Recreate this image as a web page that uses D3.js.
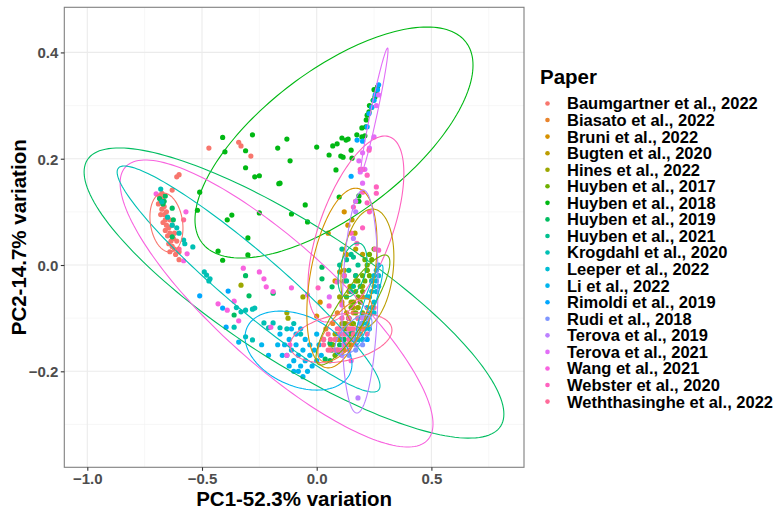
<!DOCTYPE html>
<html>
<head>
<meta charset="utf-8">
<script src="https://cdn.jsdelivr.net/npm/d3@7"></script>
<style>
	body { margin:0; background:#fff; }
	svg { font-family:"Liberation Sans", Arial, sans-serif; }
</style>
</head>
<body>
<svg id="chart" width="779" height="509"></svg>
<script>
// Legend order (also colour order of the ggplot hue palette)
const papers = [
	'Baumgartner et al., 2022','Biasato et al., 2022','Bruni et al., 2022','Bugten et al., 2020',
	'Hines et al., 2022','Huyben et al., 2017','Huyben et al., 2018','Huyben et al., 2019',
	'Huyben et al., 2021','Krogdahl et al., 2020','Leeper et al., 2022','Li et al., 2022',
	'Rimoldi et al., 2019','Rudi et al., 2018','Terova et al., 2019','Terova et al., 2021',
	'Wang et al., 2021','Webster et al., 2020','Weththasinghe et al., 2022'
];

// PC1 / PC2 scores, one array per paper
const baumgartner = [[-0.69,0.115],[-0.68,0.12],[-0.675,0.105],[-0.67,0.125],[-0.665,0.11],[-0.68,0.095],[-0.665,0.095],[-0.66,0.085],[-0.67,0.08],[-0.655,0.075],[-0.66,0.065],[-0.645,0.07],[-0.65,0.055],[-0.64,0.06],[-0.635,0.045],[-0.645,0.04],[-0.63,0.035],[-0.62,0.03],[-0.625,0.05],[-0.615,0.02],[-0.61,0.045],[-0.6,0.025],[-0.655,0.1],[-0.64,0.085],[-0.63,0.075],[-0.675,0.135],[-0.685,0.13],[-0.62,0.06],[-0.6,0.01],[-0.64,0.025],[-0.47,0.22],[-0.34,0.231],[-0.33,0.224],[-0.287,0.205],[-0.61,0.166],[-0.6,0.17],[-0.63,0.141]];
const biasato = [[0.04,-0.12],[0.07,-0.11],[0.1,-0.14],[0.13,-0.11],[0.16,-0.09],[0.09,-0.09],[0.06,-0.15],[0.12,-0.16],[0.15,-0.15],[0.18,-0.08],[0.11,-0.07]];
const bruni = [[0.05,0.06],[0.015,-0.07],[0.0,-0.096],[0.136,0.075],[0.1,-0.013],[0.145,-0.04],[0.13,0.02],[0.08,-0.03],[0.12,-0.12],[0.09,-0.14],[0.15,-0.11],[0.11,-0.16],[0.07,-0.15],[0.17,0.12],[0.12,0.1]];
const bugten = [[0.12,-0.01],[0.14,-0.05],[0.16,-0.08],[0.18,-0.1],[0.15,-0.13],[0.17,-0.03],[0.2,-0.06],[0.13,-0.09],[0.19,-0.12],[0.11,-0.11],[0.167,0.06],[0.154,0.085],[0.2,0.02],[0.22,-0.01],[0.17,0.03]];
const hines = [[-0.33,-0.038],[-0.13,-0.09],[-0.125,-0.1],[-0.06,-0.06],[0.12,-0.03],[0.15,-0.07],[0.17,-0.02],[0.2,-0.04],[0.1,-0.06],[0.18,-0.08],[0.14,-0.15],[0.08,-0.13]];
const huyben2017 = [[0.25,0.03],[0.24,0.01],[0.23,0.02],[0.22,-0.01],[0.23,-0.02],[0.21,-0.03],[0.2,-0.02],[0.2,-0.05],[0.19,-0.04],[0.18,-0.06],[0.19,-0.07],[0.17,-0.05],[0.16,-0.07],[0.17,-0.09],[0.15,-0.08],[0.14,-0.1],[0.16,-0.11],[0.13,-0.12],[0.12,-0.11],[0.14,-0.13],[0.11,-0.14],[0.1,-0.13],[0.12,-0.15],[0.09,-0.16],[0.08,-0.17],[0.22,0.0],[0.24,-0.03],[0.21,0.01],[0.18,-0.03],[0.15,-0.04],[0.13,-0.06],[0.2,-0.09],[0.07,-0.15]];
const huyben2018 = [[-0.41,0.24],[-0.4,0.213],[-0.28,0.245],[-0.31,0.215],[-0.31,0.183],[-0.27,0.166],[-0.25,0.168],[-0.17,0.22],[-0.13,0.237],[-0.116,0.196],[-0.165,0.153],[-0.51,0.137],[0.0,0.222],[0.054,0.207],[0.07,0.224],[0.089,0.228],[0.11,0.239],[0.128,0.235],[0.137,0.237],[0.105,0.205],[0.115,0.203],[0.15,0.216],[0.154,0.201],[0.084,0.179],[0.175,0.245],[0.197,0.258],[0.197,0.241],[0.21,0.243],[0.214,0.26],[0.216,0.273],[0.22,0.282],[0.228,0.288],[0.24,0.297],[0.246,0.31],[0.254,0.316],[0.26,0.323],[0.098,0.128],[0.184,0.13],[-0.52,0.103],[-0.39,0.085],[-0.37,0.094],[-0.25,0.098],[-0.11,0.096],[-0.04,0.081],[-0.3,0.051],[-0.43,0.026],[-0.41,0.009],[-0.3,0.019],[-0.16,0.154],[-0.05,0.113],[0.184,0.12],[0.23,0.3],[0.25,0.33],[0.265,0.335]];
const huyben2019 = [[-0.685,0.125],[-0.675,0.12],[-0.67,0.115],[-0.665,0.12],[-0.63,0.107],[-0.625,0.085],[-0.63,0.053],[-0.66,0.13],[-0.31,-0.02],[-0.295,-0.058],[-0.36,-0.094],[-0.19,-0.053],[0.058,-0.147],[0.066,-0.16],[0.09,-0.165],[0.1,-0.15],[0.12,-0.14],[0.154,-0.126],[0.037,-0.177],[0.058,-0.18],[0.023,-0.004],[0.023,-0.026],[0.067,-0.041],[0.14,-0.1]];
const huyben2021 = [[0.1,0.0],[0.13,0.01],[0.15,0.02],[0.16,0.015],[0.14,-0.01],[0.17,-0.02],[0.13,-0.03],[0.16,-0.04],[0.12,-0.02],[0.18,0.0],[0.15,-0.05],[0.11,0.03]];
const krogdahl = [[-0.68,0.143],[-0.675,0.119],[-0.61,0.07],[-0.6,0.06],[-0.58,0.047],[-0.575,0.04],[-0.54,0.034],[-0.49,-0.013],[-0.48,-0.019],[-0.465,-0.026],[-0.47,-0.03],[-0.35,-0.08],[-0.33,-0.088],[-0.31,-0.085],[-0.28,-0.083],[-0.27,-0.081],[-0.36,-0.117],[-0.31,-0.135],[-0.28,-0.141],[-0.23,-0.109],[-0.21,-0.118],[-0.19,-0.109],[-0.16,-0.118],[-0.13,-0.12],[-0.1,-0.11],[-0.07,-0.13],[-0.65,0.09],[-0.63,0.075]];
const leeper = [[0.27,0.0],[0.26,-0.01],[0.27,-0.02],[0.25,-0.02],[0.26,-0.03],[0.25,-0.04],[0.24,-0.05],[0.26,-0.05],[0.23,-0.06],[0.25,-0.07],[0.24,-0.08],[0.22,-0.08],[0.23,-0.09],[0.21,-0.1],[0.22,-0.11],[0.2,-0.11],[0.21,-0.12],[0.19,-0.13],[0.2,-0.14],[0.18,-0.14],[0.24,-0.03],[0.22,-0.06],[0.25,-0.09],[0.27,-0.04],[0.23,-0.12],[0.17,-0.15]];
const li = [[-0.34,-0.145],[-0.24,-0.15],[-0.21,-0.17],[-0.16,-0.13],[-0.14,-0.15],[-0.12,-0.14],[-0.13,-0.17],[-0.11,-0.16],[-0.1,-0.18],[-0.09,-0.15],[-0.08,-0.17],[-0.07,-0.19],[-0.06,-0.16],[-0.05,-0.18],[-0.04,-0.2],[-0.03,-0.17],[-0.02,-0.19],[-0.01,-0.16],[0.0,-0.18],[0.01,-0.15],[0.02,-0.17],[-0.08,-0.2],[-0.06,-0.21],[-0.1,-0.2],[-0.12,-0.19],[-0.15,-0.17],[-0.09,-0.13],[-0.05,-0.14],[-0.03,-0.15],[0.03,-0.14],[-0.07,-0.12],[-0.11,-0.12],[-0.17,-0.15],[0.0,-0.13]];
const rimoldi = [[0.27,0.339],[0.265,0.33],[0.255,0.32],[0.25,0.31],[0.24,0.297],[0.228,0.285],[0.22,0.26],[0.176,0.235],[0.2,0.233],[0.15,0.167],[-0.386,-0.049],[-0.41,-0.081],[-0.51,-0.058],[-0.395,-0.117],[0.2,-0.12],[0.22,-0.14]];
const rudi = [[0.18,-0.13],[0.2,-0.15],[0.15,-0.14],[0.22,-0.1],[0.17,-0.16],[0.14,-0.17],[0.19,-0.11]];
const terova2019 = [[0.12,-0.15],[0.14,-0.16],[0.16,-0.14],[0.11,-0.17],[0.18,-0.12],[0.13,-0.13],[0.15,-0.12],[0.2,-0.1],[0.17,-0.15],[0.17,0.1],[0.16,0.05],[0.18,-0.25]];
const terova2021 = [[0.25,0.241],[0.2,0.211],[0.184,0.196],[0.19,0.175],[0.2,0.154],[0.21,0.18],[0.23,0.22],[0.26,0.3],[0.27,0.32],[0.17,0.12],[-0.04,-0.056],[0.055,-0.06]];
const wang = [[-0.7,0.134],[-0.57,0.1],[-0.32,-0.006],[-0.25,-0.013],[-0.23,-0.026],[-0.22,-0.041],[-0.19,-0.05],[-0.11,-0.043],[-0.36,-0.068],[-0.43,-0.073],[-0.39,-0.085],[-0.34,-0.105],[-0.2,-0.117],[-0.117,-0.15],[-0.565,0.021],[-0.58,0.008],[-0.13,-0.17],[0.1,-0.16],[0.15,-0.18]];
const webster = [[0.228,0.216],[0.19,0.18],[0.2,0.18],[0.22,0.169],[0.26,0.147],[0.26,0.135],[0.2,0.137],[0.16,0.109],[0.22,0.117],[0.23,0.1],[0.255,0.03],[0.27,0.028],[0.175,0.041],[0.006,-0.043],[0.054,-0.077],[0.089,-0.032],[0.11,-0.075],[0.15,0.06],[0.2,0.07],[0.12,-0.02],[0.14,-0.1]];
const weththasinghe = [[0.05,-0.13],[0.08,-0.14],[0.1,-0.12],[0.12,-0.13],[0.14,-0.12],[0.16,-0.13],[0.09,-0.16],[0.13,-0.15],[0.06,-0.16],[0.18,-0.1],[0.2,-0.12],[0.11,-0.1],[0.03,-0.15],[-0.58,0.085],[-0.6,0.03],[0.25,-0.08],[0.22,-0.13],[0.03,-0.14],[0.06,-0.14],[0.08,-0.16],[0.1,-0.13],[0.12,-0.15],[0.05,-0.16],[0.14,-0.14],[0.09,-0.12],[0.16,-0.12]];

const scores = [baumgartner, biasato, bruni, bugten, hines, huyben2017, huyben2018, huyben2019,
	huyben2021, krogdahl, leeper, li, rimoldi, rudi, terova2019, terova2021, wang, webster, weththasinghe];

// 95% ellipses as read: [paper index, centre x, centre y, half width, half height, phase (deg)]
const ellipses = [
	[6, 0.0754, 0.2305, 0.606, 0.2173, 48],
	[7, -0.099, -0.0527, 0.915, 0.273, 146.5],
	[16, -0.175, -0.0724, 0.682, 0.27, 147],
	[17, 0.171, 0.0677, 0.209, 0.175, 53],
	[9, -0.297, -0.0263, 0.573, 0.2126, 161],
	[11, -0.0793, -0.161, 0.233, 0.0743, 110],
	[0, -0.655, 0.08, 0.072, 0.0555, 101],
	[18, 0.106, -0.137, 0.222, 0.047, 72],
	[2, 0.11, -0.0245, 0.153, 0.169, 67],
	[3, 0.221, -0.0066, 0.1155, 0.112, 79],
	[8, 0.156, -0.0094, 0.063, 0.0508, 68],
	[15, 0.252, 0.2916, 0.0589, 0.1167, 15],
	[14, 0.1888, -0.0687, 0.0785, 0.2098, 80],
	[5, 0.158, -0.0847, 0.161, 0.1035, 30],
	[10, 0.228, -0.0753, 0.061, 0.0753, 25],
	[1, 0.123, -0.122, 0.118, 0.06, 45],
	[13, 0.16, -0.132, 0.081, 0.038, 50]
];

const xMajor = [-1.0, -0.5, 0.0, 0.5];
const xMinor = [-0.75, -0.25, 0.25, 0.75];
const yMajor = [-0.2, 0.0, 0.2, 0.4];
const yMinor = [-0.3, -0.1, 0.1, 0.3];

// ggplot2 hue_pal(): hcl(h, c = 100, l = 65) converted the way R does it (polar Luv)
function hueColour(h) {
	const WY = 100, Wu = 0.1978398, Wv = 0.4683363;
	const L = 65, hr = h*Math.PI/180;
	const U = 100*Math.cos(hr), V = 100*Math.sin(hr);
	const Y = WY*Math.pow((L+16)/116, 3);
	const u = U/(13*L) + Wu;
	const v = V/(13*L) + Wv;
	const X = 9*Y*u/(4*v);
	const Z = -X/3 - 5*Y + 3*Y/v;
	const g = c => {
		c = c > 0.00304 ? 1.055*Math.pow(c, 1/2.4) - 0.055 : 12.92*c;
		return Math.round(255*Math.max(0, Math.min(1, c)));
	};
	return d3.rgb(
		g((3.240479*X - 1.53715*Y - 0.498535*Z)/WY),
		g((-0.969256*X + 1.875992*Y + 0.041556*Z)/WY),
		g((0.055648*X - 0.204043*Y + 1.057311*Z)/WY)
	).formatHex();
}
const colours = papers.map((p, i) => hueColour((15 + i*360/papers.length) % 360));

const svg = d3.select('#chart');
const panel = {left:64.3, right:524, top:7.3, bottom:467.3};

const x = d3.scaleLinear().domain([-1.1003, 0.9037]).range([panel.left, panel.right]);
const y = d3.scaleLinear().domain([-0.3806, 0.4849]).range([panel.bottom, panel.top]);

svg.append('defs').append('clipPath').attr('id', 'panel-clip')
	.append('rect')
		.attr('x', panel.left).attr('y', panel.top)
		.attr('width', panel.right-panel.left).attr('height', panel.bottom-panel.top);

const grid = svg.append('g');
grid.selectAll('line.xmin').data(xMinor).enter().append('line')
	.attr('x1', d => x(d)).attr('x2', d => x(d))
	.attr('y1', panel.top).attr('y2', panel.bottom)
	.attr('stroke', '#f2f2f2').attr('stroke-width', 0.6);
grid.selectAll('line.ymin').data(yMinor).enter().append('line')
	.attr('x1', panel.left).attr('x2', panel.right)
	.attr('y1', d => y(d)).attr('y2', d => y(d))
	.attr('stroke', '#f2f2f2').attr('stroke-width', 0.6);
grid.selectAll('line.xmaj').data(xMajor).enter().append('line')
	.attr('x1', d => x(d)).attr('x2', d => x(d))
	.attr('y1', panel.top).attr('y2', panel.bottom)
	.attr('stroke', '#ebebeb').attr('stroke-width', 1.1);
grid.selectAll('line.ymaj').data(yMajor).enter().append('line')
	.attr('x1', panel.left).attr('x2', panel.right)
	.attr('y1', d => y(d)).attr('y2', d => y(d))
	.attr('stroke', '#ebebeb').attr('stroke-width', 1.1);

const plot = svg.append('g').attr('clip-path', 'url(#panel-clip)');

scores.forEach((pts, i) => {
	plot.append('g').selectAll('circle').data(pts)
		.enter().append('circle')
			.attr('cx', d => x(d[0]))
			.attr('cy', d => y(d[1]))
			.attr('r', 2.6)
			.attr('fill', colours[i]);
});

const line = d3.line().curve(d3.curveLinearClosed);
const steps = d3.range(0, 2*Math.PI, Math.PI/90);
plot.selectAll('path.ell').data(ellipses)
	.enter().append('path')
		.attr('d', e => line(steps.map(t => [
			x(e[1] + e[3]*Math.cos(t)),
			y(e[2] + e[4]*Math.cos(t + e[5]*Math.PI/180))
		])))
		.attr('fill', 'none')
		.attr('stroke', e => colours[e[0]])
		.attr('stroke-width', 1.1);

// panel border
svg.append('rect')
	.attr('x', panel.left).attr('y', panel.top)
	.attr('width', panel.right-panel.left).attr('height', panel.bottom-panel.top)
	.attr('fill', 'none').attr('stroke', '#7f7f7f').attr('stroke-width', 1.1);

const fmt = d3.format('.1f');
const xAxis = svg.append('g')
	.attr('transform', `translate(0,${panel.bottom})`)
	.call(d3.axisBottom(x).tickValues(xMajor).tickSize(3.5).tickFormat(fmt));
const yAxis = svg.append('g')
	.attr('transform', `translate(${panel.left},0)`)
	.call(d3.axisLeft(y).tickValues(yMajor).tickSize(3.5).tickFormat(fmt));
[xAxis, yAxis].forEach(a => {
	a.select('.domain').remove();
	a.selectAll('.tick line').attr('stroke', '#333333').attr('stroke-width', 1.1);
	a.selectAll('.tick text')
		.attr('fill', '#4d4d4d')
		.attr('font-size', 15)
		.attr('font-weight', 'bold')
		.attr('font-family', '"Liberation Sans", Arial, sans-serif');
});
xAxis.selectAll('.tick text').attr('dy', null).attr('y', 17);
yAxis.selectAll('.tick text').attr('x', -6).attr('dy', '0.36em');

svg.append('text')
	.attr('x', (panel.left+panel.right)/2).attr('y', 506)
	.attr('text-anchor', 'middle')
	.attr('font-size', 20.5).attr('font-weight', 'bold')
	.text('PC1-52.3% variation');
svg.append('text')
	.attr('transform', `translate(26,${(panel.top+panel.bottom)/2}) rotate(-90)`)
	.attr('text-anchor', 'middle')
	.attr('font-size', 20.5).attr('font-weight', 'bold')
	.text('PC2-14.7% variation');

// legend
const legend = svg.append('g').attr('transform', 'translate(540,0)');
legend.append('text')
	.attr('x', 0).attr('y', 84)
	.attr('font-size', 20.5).attr('font-weight', 'bold')
	.text('Paper');
const rows = legend.selectAll('g.row').data(papers)
	.enter().append('g')
		.attr('transform', (d, i) => `translate(0,${103.5 + i*16.56})`);
rows.append('circle')
	.attr('cx', 7.5).attr('cy', 0).attr('r', 2.3)
	.attr('fill', (d, i) => colours[i]);
rows.append('text')
	.attr('x', 27).attr('y', 0).attr('dy', '0.36em')
	.attr('font-size', 16.5).attr('font-weight', 'bold')
	.text(d => d);
</script>
</body>
</html>
